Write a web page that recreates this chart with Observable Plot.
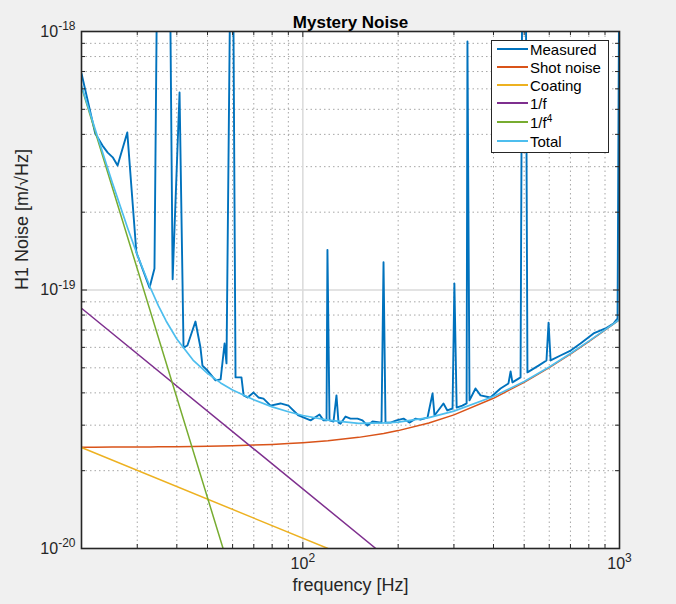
<!DOCTYPE html>
<html><head><meta charset="utf-8">
<script src="https://cdn.jsdelivr.net/npm/d3@7"></script>
<script src="https://cdn.jsdelivr.net/npm/@observablehq/plot@0.6"></script>
<style>
body{margin:0;background:#f0f0f0;font-family:"Liberation Sans",Arial,Helvetica,sans-serif;}
#wrap{position:relative;width:676px;height:604px;overflow:hidden;}
#legend{position:absolute;left:491px;top:40px;width:116px;height:111px;background:#fff;border:1.5px solid #262626;box-sizing:content-box;font-size:15px;color:#000;}
#legend .row{display:flex;align-items:center;height:18px;}
#legend .row:first-child{margin-top:-1px;}
#legend .row.tall{height:20px;}
#legend .sw{display:inline-block;width:31px;height:0;margin:0 2px 0 5px;}
#legend sup{font-size:10px;line-height:0;vertical-align:6px;}
</style>
</head><body><div id="wrap"></div>
<script>
// ---- data ----
const measuredFreq = [20, 22.1, 23.3, 24.2, 25.1, 26.0, 27.9, 29.8, 32.8, 34.0, 34.8, 36.3, 37.9, 38.8, 40.8, 42.0, 43.2, 45.8, 47.5, 48.2, 50.0, 53.0, 55.0, 56.6, 57.4, 59.1, 60.0, 61.3, 64.0, 65.0, 66.9, 69.9, 72.4, 75.1, 79.1, 85.0, 90.1, 96.9, 105.8, 112.9, 116.2, 118.8, 119.6, 121.4, 125.0, 127.7, 129.6, 131.5, 136.4, 141.4, 148.8, 154.3, 160.0, 166, 177.2, 179.8, 182.4, 189.2, 197.6, 208, 217, 227, 235, 247.6, 256.8, 260.5, 278, 286, 297, 301, 306, 319, 329, 331, 336, 351, 364, 391, 421, 446, 453, 459, 487, 494, 505, 512, 555, 588, 597, 606, 651, 701, 753, 828, 903, 957, 986, 1000];
const measuredNoise = [6.88e-19, 4.03e-19, 3.62e-19, 3.40e-19, 3.26e-19, 3.03e-19, 4.07e-19, 1.40e-19, 1.02e-19, 1.21e-19, 3e-18, 5e-18, 3e-18, 1.10e-19, 5.81e-19, 5.99e-20, 6.10e-20, 7.55e-20, 5.99e-20, 5.10e-20, 4.88e-20, 4.47e-20, 4.51e-20, 6.21e-20, 5.20e-20, 2e-18, 4e-18, 4.59e-20, 4.59e-20, 3.91e-20, 3.84e-20, 4.01e-20, 3.84e-20, 3.80e-20, 3.57e-20, 3.64e-20, 3.57e-20, 3.27e-20, 3.13e-20, 3.30e-20, 3.13e-20, 3.13e-20, 1.43e-19, 3.13e-20, 3.10e-20, 3.91e-20, 3.07e-20, 3.04e-20, 3.24e-20, 3.18e-20, 3.18e-20, 3.13e-20, 2.99e-20, 3.10e-20, 3.07e-20, 1.28e-19, 3.07e-20, 3.07e-20, 3.13e-20, 3.18e-20, 3.07e-20, 3.18e-20, 3.15e-20, 3.21e-20, 3.98e-20, 3.27e-20, 3.64e-20, 3.42e-20, 3.48e-20, 1.06e-19, 3.51e-20, 3.57e-20, 3.64e-20, 9.15e-19, 3.74e-20, 4.16e-20, 3.91e-20, 3.84e-20, 4.16e-20, 4.35e-20, 4.84e-20, 4.39e-20, 4.59e-20, 3e-18, 3e-18, 4.80e-20, 5.10e-20, 5.34e-20, 7.48e-20, 5.34e-20, 5.58e-20, 5.83e-20, 6.21e-20, 6.79e-20, 7.10e-20, 7.42e-20, 7.76e-20, 3e-18];

const modelFreq = [20, 22, 25, 28, 30, 33, 35, 37, 40, 45, 50, 55, 60, 70, 80, 90, 100, 120, 150, 180, 200, 250, 300, 400, 500, 600, 700, 800, 900, 1000];
const shotNoise = [2.464e-20, 2.465e-20, 2.467e-20, 2.468e-20, 2.470e-20, 2.472e-20, 2.473e-20, 2.475e-20, 2.477e-20, 2.482e-20, 2.487e-20, 2.492e-20, 2.498e-20, 2.512e-20, 2.528e-20, 2.546e-20, 2.565e-20, 2.611e-20, 2.691e-20, 2.787e-20, 2.858e-20, 3.060e-20, 3.289e-20, 3.811e-20, 4.393e-20, 5.011e-20, 5.653e-20, 6.320e-20, 6.995e-20, 7.682e-20];
const totalNoise = [6.17e-19, 4.25e-19, 2.61e-19, 1.73e-19, 1.369e-19, 1.02e-19, 8.68e-20, 7.59e-20, 6.46e-20, 5.36e-20, 4.76e-20, 4.37e-20, 4.10e-20, 3.76e-20, 3.53e-20, 3.38e-20, 3.27e-20, 3.14e-20, 3.05e-20, 3.06e-20, 3.08e-20, 3.21e-20, 3.40e-20, 3.87e-20, 4.43e-20, 5.04e-20, 5.68e-20, 6.34e-20, 7.01e-20, 7.69e-20];

const coatingFreq = [20, 120];
const coatingNoise = [2.46e-20, 1.0e-20];
const oneOverFFreq = [20, 170];
const oneOverFNoise = [8.5e-20, 1.0e-20];
const oneOverF4Freq = [20, 56];
const oneOverF4Noise = [6.1e-19, 1.0e-20];

const xMajorTicks = [100, 1000];
const xMinorTicks = [30, 40, 50, 60, 70, 80, 90, 200, 300, 400, 500, 600, 700, 800, 900];
const yMajorTicks = [1e-20, 1e-19, 1e-18];
const yMinorTicks = [2e-20, 3e-20, 4e-20, 5e-20, 6e-20, 7e-20, 8e-20, 9e-20, 2e-19, 3e-19, 4e-19, 5e-19, 6e-19, 7e-19, 8e-19, 9e-19];

const seriesNames = ["Measured", "Shot noise", "Coating", "1/f", "1/f^4", "Total"];
const seriesColors = ["#0072BD", "#D95319", "#EDB120", "#7E2F8E", "#77AC30", "#4DBEEE"];

// ---- build ----
const zip = (xs, ys) => xs.map((x, i) => ({f: x, n: ys[i]}));
const W = 676, H = 604, mL = 81, mR = 57, mT = 31, mB = 56;
const innerW = W - mL - mR, innerH = H - mT - mB;
const ax = "#262626";
const expFmt = d => "10^" + Math.round(Math.log10(d));

const line = (xs, ys, i, w) => Plot.line(zip(xs, ys), {x: "f", y: "n", stroke: seriesColors[i], strokeWidth: w, clip: true});

const chart = Plot.plot({
  width: W, height: H,
  marginLeft: mL, marginRight: mR, marginTop: mT, marginBottom: mB,
  style: {background: "#f0f0f0", fontFamily: "'Liberation Sans', Arial, Helvetica, sans-serif", fontSize: "16px", color: ax},
  x: {type: "log", domain: [20, 1000]},
  y: {type: "log", domain: [1e-20, 1e-18]},
  marks: [
    Plot.frame({fill: "white"}),
    Plot.gridX(xMinorTicks, {stroke: "#a6a6a6", strokeOpacity: 1, strokeDasharray: "1.5,3"}),
    Plot.gridY(yMinorTicks, {stroke: "#a6a6a6", strokeOpacity: 1, strokeDasharray: "1.5,3"}),
    Plot.gridX([100], {stroke: "#dadada", strokeOpacity: 1, strokeWidth: 1.5}),
    Plot.gridY([1e-19], {stroke: "#dadada", strokeOpacity: 1, strokeWidth: 1.5}),
    line(measuredFreq, measuredNoise, 0, 1.9),
    line(modelFreq, shotNoise, 1, 1.5),
    line(coatingFreq, coatingNoise, 2, 1.5),
    line(oneOverFFreq, oneOverFNoise, 3, 1.5),
    line(oneOverF4Freq, oneOverF4Noise, 4, 1.5),
    line(modelFreq, totalNoise, 5, 1.7),
    // inward ticks on all four sides
    Plot.tickX(xMajorTicks, {x: d => d, insetTop: innerH - 6, stroke: ax}),
    Plot.tickX(xMajorTicks, {x: d => d, insetBottom: innerH - 6, stroke: ax}),
    Plot.tickX(xMinorTicks, {x: d => d, insetTop: innerH - 4, stroke: ax}),
    Plot.tickX(xMinorTicks, {x: d => d, insetBottom: innerH - 4, stroke: ax}),
    Plot.tickY(yMajorTicks, {y: d => d, insetRight: innerW - 6, stroke: ax}),
    Plot.tickY(yMajorTicks, {y: d => d, insetLeft: innerW - 6, stroke: ax}),
    Plot.tickY(yMinorTicks, {y: d => d, insetRight: innerW - 4, stroke: ax}),
    Plot.tickY(yMinorTicks, {y: d => d, insetLeft: innerW - 4, stroke: ax}),
    Plot.frame({stroke: ax, strokeWidth: 1.6}),
    Plot.axisX({ticks: xMajorTicks, tickSize: 0, tickPadding: 9, tickFormat: expFmt, label: null, fontSize: 16, fill: ax}),
    Plot.axisY({ticks: yMajorTicks, tickSize: 0, tickPadding: 6, tickFormat: expFmt, label: null, fontSize: 16, fill: ax}),
    Plot.text(["Mystery Noise"], {text: d => d, frameAnchor: "top", dy: -16, fontWeight: "bold", fontSize: 17, fill: "#000"}),
    Plot.text(["frequency [Hz]"], {text: d => d, frameAnchor: "bottom", dy: 42, fontSize: 18, fill: ax}),
    Plot.text(["H1 Noise [m/\u221AHz]"], {text: d => d, frameAnchor: "left", dx: -59, rotate: -90, fontSize: 18, fill: ax})
  ]
});

// superscripts for 10^n labels
d3.select(chart).selectAll("text").each(function () {
  const m = this.textContent.match(/^10\^(-?\d+)$/);
  if (!m) return;
  const t = d3.select(this);
  t.text("");
  t.append("tspan").text("10");
  t.append("tspan").attr("dy", "-0.55em").attr("font-size", "0.75em").text(m[1]);
});

const wrap = document.getElementById("wrap");
wrap.appendChild(chart);

// legend
const legend = document.createElement("div");
legend.id = "legend";
seriesNames.forEach((name, i) => {
  const row = document.createElement("div");
  row.className = "row";
  const sw = document.createElement("span");
  sw.className = "sw";
  sw.style.borderTop = "2px solid " + seriesColors[i];
  const lab = document.createElement("span");
  const parts = name.split("^");
  lab.textContent = parts[0];
  if (parts[1]) { row.classList.add("tall"); const s = document.createElement("sup"); s.textContent = parts[1]; lab.appendChild(s); }
  row.appendChild(sw); row.appendChild(lab);
  legend.appendChild(row);
});
wrap.appendChild(legend);
</script>
</body></html>
